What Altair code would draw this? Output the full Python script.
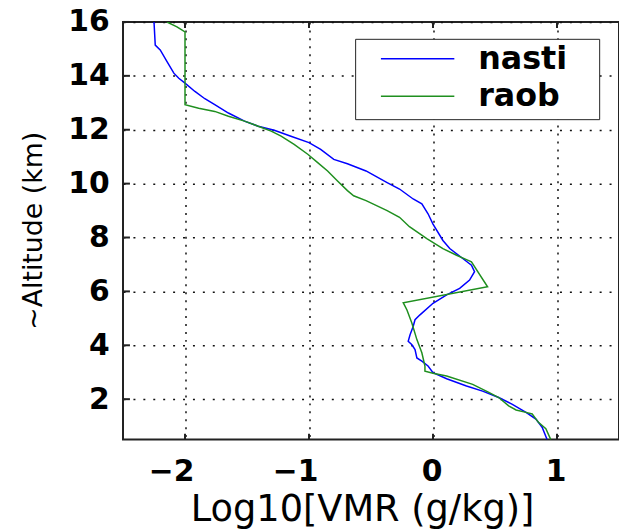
import altair as alt
import pandas as pd

# ---- data ----
nasti_alt = [16.0, 15.14, 14.96, 14.53, 14.1, 13.91, 13.73, 13.42, 13.15, 12.93, 12.62, 12.32,
             12.13, 11.98, 11.76, 11.52, 11.27, 10.9, 10.74, 10.47, 10.04, 9.8, 9.43, 9.25, 8.88,
             8.5, 7.89, 7.59, 7.22, 6.97, 6.73, 6.42, 6.11, 5.87, 5.56, 5.13, 4.95, 4.70, 4.39,
             4.15, 4.02, 3.84, 3.53, 3.41, 3.23, 2.98, 2.76, 2.49, 2.30, 2.06, 1.81, 1.51, 1.26,
             0.96, 0.5]
nasti_val = [-2.25, -2.24, -2.20, -2.145, -2.09, -2.05, -2.0, -1.92, -1.84, -1.76, -1.65, -1.52,
             -1.41, -1.28, -1.146, -1.0, -0.906, -0.80, -0.69, -0.54, -0.37, -0.27, -0.16, -0.09,
             -0.04, 0.0, 0.08, 0.135, 0.24, 0.31, 0.335, 0.295, 0.215, 0.11, 0.0, -0.105, -0.145,
             -0.16, -0.185, -0.2, -0.17, -0.145, -0.13, -0.09, -0.04, 0.0, 0.11, 0.27, 0.40, 0.53,
             0.64, 0.75, 0.83, 0.88, 0.92]

raob_alt = [16.0, 15.82, 15.63, 12.93, 12.8, 12.68, 12.5, 12.32, 12.13, 11.95, 11.76, 11.46,
            11.09, 10.78, 10.47, 10.1, 9.74, 9.55, 9.37, 9.0, 8.75, 8.4, 7.96, 7.59, 7.34, 7.18,
            7.1, 6.17, 5.58, 5.31, 4.82, 4.21, 3.72, 3.23, 3.04, 2.96, 2.86, 2.55, 2.25, 2.06,
            1.75, 1.6, 1.51, 1.45, 1.14, 0.9, 0.5]
raob_val = [-2.145, -2.065, -2.0, -2.0, -1.89, -1.76, -1.65, -1.52, -1.41, -1.305, -1.225, -1.12,
            -1.01, -0.93, -0.85, -0.77, -0.69, -0.64, -0.54, -0.37, -0.27, -0.19, -0.05, 0.08,
            0.19, 0.27, 0.31, 0.44, -0.24, -0.21, -0.17, -0.13, -0.09, -0.065, -0.065, 0.0, 0.11,
            0.32, 0.45, 0.53, 0.61, 0.67, 0.75, 0.80, 0.85, 0.91, 0.95]

series_names = ["nasti", "raob"]
series_colors = ["#0000ff", "#1f8f1f"]
x_ticks = [-2, -1, 0, 1]
y_ticks = [2, 4, 6, 8, 10, 12, 14, 16]

rows = []
for i, (a, v) in enumerate(zip(nasti_alt, nasti_val)):
    rows.append({"series": "nasti", "alt": a, "val": v, "idx": i})
for i, (a, v) in enumerate(zip(raob_alt, raob_val)):
    rows.append({"series": "raob", "alt": a, "val": v, "idx": i})
df = pd.DataFrame(rows)

W, H = 500, 421
FONT = "DejaVu Sans"

xscale = alt.Scale(domain=[-2.5, 1.5], nice=False, zero=False)
yscale = alt.Scale(domain=[0.5, 16], nice=False, zero=False)

lines = alt.Chart(df).mark_line(strokeWidth=1.5, clip=True).encode(
    x=alt.X("val:Q", scale=xscale,
            axis=alt.Axis(values=x_ticks, title="Log10[VMR (g/kg)]", grid=True,
                          gridDash=[2, 6], gridColor="#111", gridWidth=1.5,
                          ticks=False, domain=False, labelPadding=17,
                          labelFont=FONT, labelFontSize=30, labelFontWeight="bold",
                          labelColor="black", labelAlign="right", labelOffset=9,
                          titleFont=FONT, titleFontSize=37, titleFontWeight="normal",
                          titleColor="black", titleX=241, titleY=53, titleAlign="center",
                          titleBaseline="top", format="d")),
    y=alt.Y("alt:Q", scale=yscale,
            axis=alt.Axis(values=y_ticks, title="~Altitude (km)", grid=True,
                          gridDash=[2, 8], gridColor="#111", gridWidth=1.5,
                          ticks=False, domain=False, labelPadding=14,
                          labelFont=FONT, labelFontSize=30, labelFontWeight="bold",
                          labelColor="black",
                          titleFont=FONT, titleFontSize=27, titleFontWeight="normal",
                          titleColor="black", titleX=-76, titleY=210, titleAlign="center",
                          titleAngle=270, titleBaseline="bottom", format="d")),
    color=alt.Color("series:N",
                    scale=alt.Scale(domain=series_names, range=series_colors),
                    legend=alt.Legend(title=None, orient="none", legendX=234, legendY=17,
                                      symbolType="stroke", symbolSize=5476,
                                      symbolStrokeWidth=1.5, labelFont=FONT,
                                      labelFontSize=32, labelFontWeight="bold",
                                      labelColor="black", labelOffset=23, padding=7,
                                      strokeColor="#222", fillColor="white",
                                      clipHeight=26, rowPadding=6, symbolOffset=18,
                                      labelExpr="datum.label + '\u2800'")),
    order="idx:Q",
)

xt = pd.DataFrame({"v": x_ticks})
yt = pd.DataFrame({"a": y_ticks})
tick_bottom = alt.Chart(xt).mark_rule(color="#222", strokeWidth=2).encode(
    x=alt.X("v:Q", scale=xscale), y=alt.value(H), y2=alt.value(H - 6))
tick_top = alt.Chart(xt).mark_rule(color="#222", strokeWidth=2).encode(
    x=alt.X("v:Q", scale=xscale), y=alt.value(0), y2=alt.value(6))
tick_left = alt.Chart(yt).mark_rule(color="#222", strokeWidth=2).encode(
    y=alt.Y("a:Q", scale=yscale), x=alt.value(0), x2=alt.value(7))

chart = alt.layer(lines, tick_bottom, tick_top, tick_left).properties(
    width=W, height=H,
    autosize=alt.AutoSizeParams(type="none"),
    padding={"left": 124, "top": 20, "right": 0, "bottom": 88},
    background="white",
).configure_view(stroke="#222", strokeWidth=2)

chart.save("out.html", embed_options={"renderer": "svg", "actions": False})
